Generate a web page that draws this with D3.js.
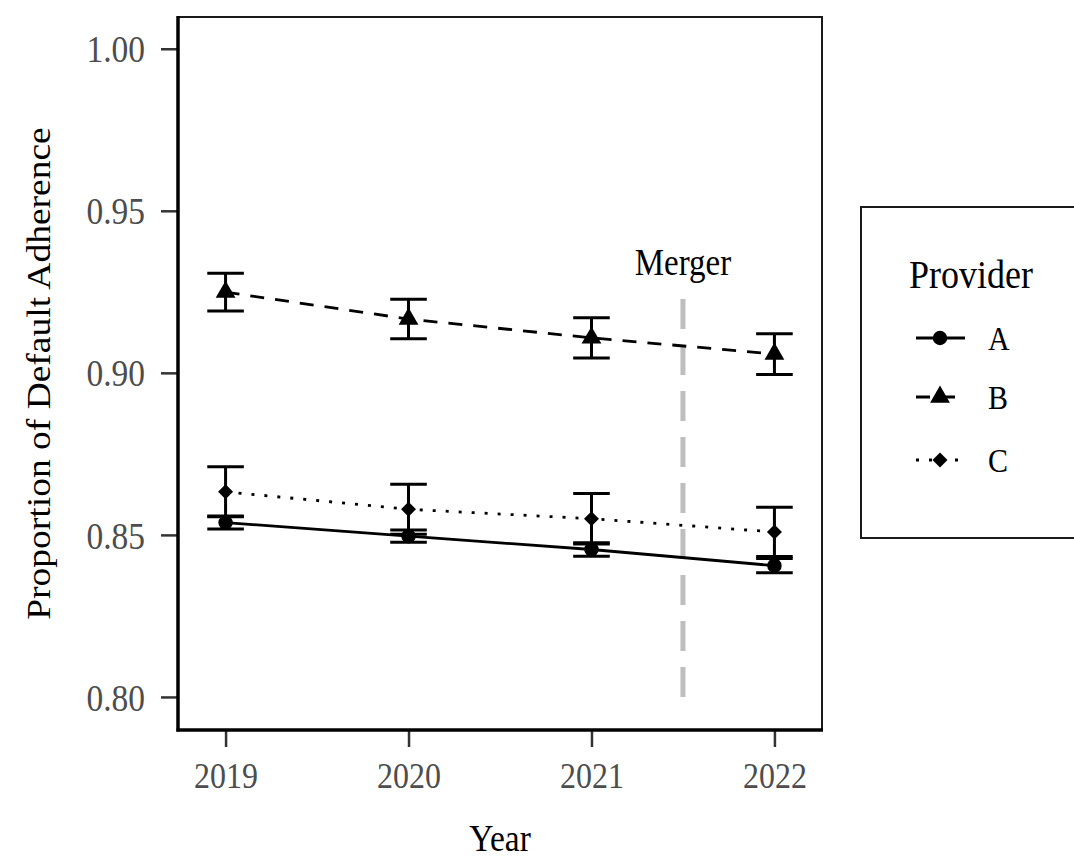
<!DOCTYPE html>
<html><head><meta charset="utf-8">
<script src="https://cdn.jsdelivr.net/npm/d3@7"></script>
<style>body{margin:0;background:#fff}</style>
</head><body>
<svg id="c" width="1074" height="862"></svg>
<script>
// ---- data ----
const years = [2019, 2020, 2021, 2022];
const providers = ["A", "B", "C"];
const meanA = [0.8538, 0.8496, 0.8455, 0.8405];
const errA  = [0.0020, 0.0019, 0.0021, 0.0022];
const meanB = [0.9249, 0.9166, 0.9108, 0.9058];
const errB  = [0.0058, 0.0061, 0.0062, 0.0063];
const meanC = [0.8633, 0.8579, 0.8550, 0.8509];
const errC  = [0.0077, 0.0077, 0.0078, 0.0076];
const yTicks = [0.80, 0.85, 0.90, 0.95, 1.00];
const mergerYear = 2021.5;
const mergerLabel = "Merger";
const mergerSpan = [0.80, 0.925];
const xTitle = "Year";
const yTitle = "Proportion of Default Adherence";
const legendTitle = "Provider";

const series = [
  {name: providers[0], mean: meanA, err: errA, dash: null, shape: "circle"},
  {name: providers[1], mean: meanB, err: errB, dash: "14,11", shape: "triangle"},
  {name: providers[2], mean: meanC, err: errC, dash: "3,10", shape: "diamond"}
];

const font = "'Liberation Serif','Times New Roman',serif";
const STRETCH = 1.12;
const svg = d3.select("#c");
const P = {l: 178, r: 822, t: 17, b: 730};

const x = d3.scaleLinear().domain([2018.74, 2022.26]).range([P.l, P.r]);
const y = d3.scaleLinear().domain([0.7898, 1.0098]).range([P.b, P.t]);

function symPath(shape) {
  if (shape === "circle") return d3.symbol(d3.symbolCircle, 165)();
  if (shape === "triangle") return d3.symbol(d3.symbolTriangle, 170)();
  return d3.symbol(d3.symbolSquare, 112)();
}
function symRot(shape) { return shape === "diamond" ? " rotate(45)" : ""; }

// text helper (glyphs slightly taller than wide, as in the reference)
function txt(g, tx, ty, s, size, anchor, fill, rot) {
  return g.append("text")
    .attr("transform", rot ? `translate(${tx},${ty}) rotate(-90) scale(${STRETCH},1)`
                           : `translate(${tx},${ty}) scale(1,${STRETCH})`)
    .attr("text-anchor", anchor).attr("dy", "0.35em")
    .style("font-family", font).style("font-size", size + "px").attr("fill", fill).text(s);
}

// panel border
svg.append("rect").attr("x", P.l).attr("y", P.t).attr("width", P.r - P.l).attr("height", P.b - P.t)
  .attr("fill", "none").attr("stroke", "#1a1a1a").attr("stroke-width", 2);

// axes
const yAxis = d3.axisLeft(y).tickValues(yTicks).tickFormat(d3.format(".2f")).tickSize(17).tickSizeOuter(0);
const gy = svg.append("g").attr("transform", `translate(${P.l},0)`).call(yAxis);
const xAxis = d3.axisBottom(x).tickValues(years).tickFormat(d3.format("d")).tickSize(17).tickSizeOuter(0);
const gx = svg.append("g").attr("transform", `translate(0,${P.b})`).call(xAxis);
[gx, gy].forEach(g => {
  g.select(".domain").remove();
  g.selectAll(".tick line").attr("stroke", "#333").attr("stroke-width", 2.5);
  g.selectAll(".tick text").remove();
});
gy.selectAll(".tick").each(function(d) {
  txt(d3.select(this), -33, 0, d3.format(".2f")(d), 33.5, "end", "#4d4d4d", false);
});
gx.selectAll(".tick").each(function(d) {
  txt(d3.select(this), 0, 45, d3.format("d")(d), 32, "middle", "#4d4d4d", false);
});

// thick axis lines
svg.append("line").attr("x1", P.l).attr("x2", P.l).attr("y1", P.t - 1).attr("y2", P.b + 1.5)
  .attr("stroke", "#000").attr("stroke-width", 3.5);
svg.append("line").attr("x1", P.l - 1.5).attr("x2", P.r + 1).attr("y1", P.b).attr("y2", P.b)
  .attr("stroke", "#000").attr("stroke-width", 3.5);

// titles
txt(svg, (P.l + P.r) / 2, 838, xTitle, 33.5, "middle", "#000", false);
txt(svg, 38, (P.t + P.b) / 2, yTitle, 33.5, "middle", "#000", true);

// merger line
svg.append("line").attr("x1", x(mergerYear)).attr("x2", x(mergerYear))
  .attr("y1", y(mergerSpan[0])).attr("y2", y(mergerSpan[1]))
  .attr("stroke", "#bebebe").attr("stroke-width", 5).attr("stroke-dasharray", "30,16");
txt(svg, x(mergerYear), 262, mergerLabel, 33, "middle", "#000", false);

// series
const line = d3.line().x(d => x(d[0])).y(d => y(d[1]));
series.forEach(s => {
  const pts = years.map((yr, i) => [yr, s.mean[i], s.err[i]]);
  svg.append("path").datum(pts).attr("d", line).attr("fill", "none").attr("stroke", "#000")
    .attr("stroke-width", 2.8).attr("stroke-dasharray", s.dash);
  const eb = svg.append("g");
  pts.forEach(p => {
    const cx = x(p[0]), hw = (x(2019.1) - x(2019));
    eb.append("line").attr("x1", cx).attr("x2", cx).attr("y1", y(p[1] - p[2])).attr("y2", y(p[1] + p[2]))
      .attr("stroke", "#000").attr("stroke-width", 3);
    [p[1] - p[2], p[1] + p[2]].forEach(v => {
      eb.append("line").attr("x1", cx - hw).attr("x2", cx + hw).attr("y1", y(v)).attr("y2", y(v))
        .attr("stroke", "#000").attr("stroke-width", 3);
    });
  });
  svg.append("g").selectAll("path").data(pts).join("path")
    .attr("d", symPath(s.shape))
    .attr("transform", d => `translate(${x(d[0])},${y(d[1])})${symRot(s.shape)}`)
    .attr("fill", "#000");
});

// legend
const lg = svg.append("g");
lg.append("rect").attr("x", 861).attr("y", 207).attr("width", 400).attr("height", 331)
  .attr("fill", "#fff").attr("stroke", "#1a1a1a").attr("stroke-width", 2);
txt(lg, 909, 274, legendTitle, 36, "start", "#000", false);
const legY = [338, 397, 460];
series.forEach((s, i) => {
  const ly = legY[i];
  lg.append("line").attr("x1", 916).attr("x2", 965).attr("y1", ly).attr("y2", ly)
    .attr("stroke", "#000").attr("stroke-width", 2.8).attr("stroke-dasharray", s.dash);
  lg.append("path").attr("d", symPath(s.shape)).attr("transform", `translate(940,${ly})${symRot(s.shape)}`).attr("fill", "#000");
  txt(lg, 988, ly, s.name, 30, "start", "#000", false);
});
</script>
</body></html>
